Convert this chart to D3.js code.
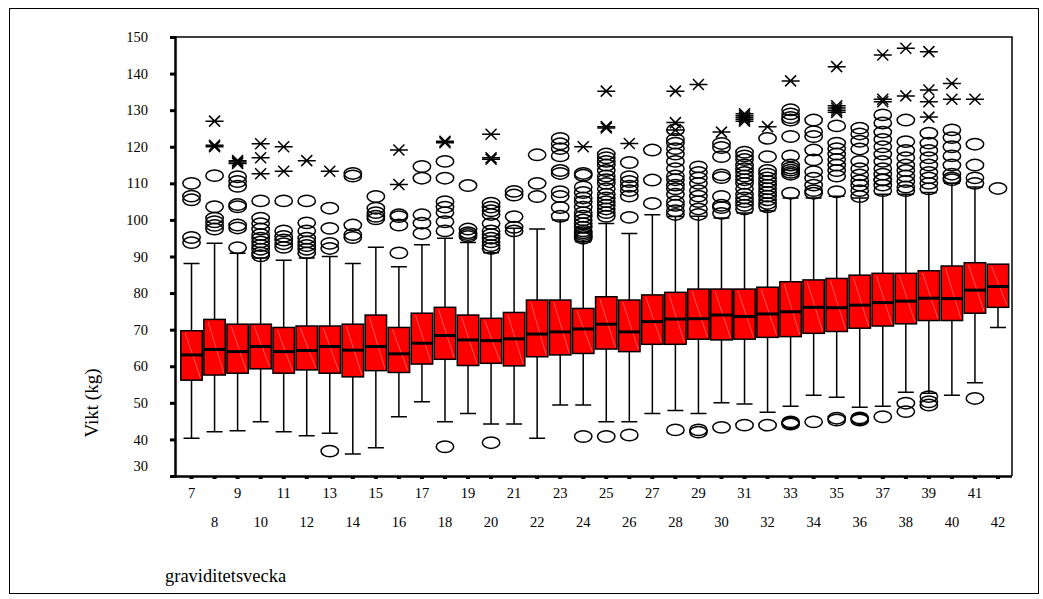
<!DOCTYPE html>
<html>
<head>
<meta charset="utf-8">
<script src="https://cdn.jsdelivr.net/npm/d3@7/dist/d3.min.js"></script>
<style>
  body { margin: 0; background: #fff; }
  text { font-family: "Liberation Serif", "DejaVu Serif", serif; fill: #000; }
</style>
</head>
<body>
<svg id="chart" width="1043" height="599"></svg>
<script>
// graviditetsvecka 7..42
const weeks = [7,8,9,10,11,12,13,14,15,16,17,18,19,20,21,22,23,24,
               25,26,27,28,29,30,31,32,33,34,35,36,37,38,39,40,41,42];

const q1  = [56.2,57.6,58.1,59.3,58.1,59.0,58.1,57.1,58.8,58.3,60.6,61.9,60.2,60.8,60.1,62.6,63.1,63.5,
             64.7,64.0,66.0,66.0,67.4,67.2,67.4,67.9,68.1,69.0,69.5,70.4,71.0,71.6,72.5,72.5,74.5,76.1];
const med = [63.1,64.6,64.0,65.4,64.0,64.3,65.4,64.4,65.4,63.4,66.3,68.4,67.2,67.0,67.5,68.8,69.4,70.2,
             71.5,69.4,72.2,72.9,73.0,74.0,73.6,74.3,74.9,76.1,76.0,76.7,77.4,77.8,78.6,78.5,80.8,81.8];
const q3  = [69.7,72.8,71.5,71.5,70.6,71.0,71.0,71.5,74.0,70.6,74.5,76.1,74.0,73.1,74.7,78.1,78.1,75.8,
             79.0,78.1,79.5,80.2,81.1,81.1,81.1,81.6,83.1,83.6,84.0,84.9,85.4,85.4,86.1,87.4,88.3,87.9];
const wLo = [40.3,42.1,42.4,44.8,42.1,41.0,41.7,36.0,37.7,46.2,50.3,44.8,47.1,44.2,44.2,40.3,49.4,49.4,
             44.8,44.8,47.1,47.9,47.1,50.0,49.7,47.4,49.1,52.1,51.5,48.8,49.1,52.9,52.6,52.1,55.5,70.6];
const wHi = [88.1,93.6,90.9,89.6,89.0,89.6,90.0,88.1,92.5,87.2,93.2,95.0,93.8,91.0,97.7,97.5,100.0,94.0,
             99.0,96.3,101.4,100.9,101.0,100.5,101.9,102.5,106.0,106.0,106.5,106.0,107.0,107.0,107.5,110.0,109.0,87.9];

// outliers (ellipses)
const outliers = [
  [110,106.5,105.5,95.2,93.8],
  [112.1,103.6,100.5,99.5,98.5,97.5],
  [111.8,110.5,109.2,104.2,103.6,98.6,97.8,92.4],
  [105.2,100.5,99,97.5,96,95,94,93,92,91,90.2],
  [105.2,97,95.5,94.5,93.5,92.5],
  [105.2,99.2,97,95,94,93,92,91],
  [103.2,97.7,93.6,92.2,36.8],
  [112.7,112,98.6,96,95.2],
  [106.4,103.2,102,101,100.3],
  [101.4,100.9,98.6,91.0],
  [114.6,111.4,101.4,99.1,96.3],
  [116,111.4,105,103.5,102,99.5,97,38.0],
  [109.4,97.5,96.5,96,95.5],
  [104.6,103.5,102.5,101.5,99,97,96,95,94,93,92.2,39.1],
  [107.8,106.8,100.9,98,97],
  [117.8,110.0,106.4],
  [122.3,120.8,119.5,117.5,113.5,112.7,107.7,106.4,103.4,101],
  [112.7,112.2,109,107.5,106,105,103.5,102,101,100,99,98,97,96.5,96,95.5,95,40.8],
  [118,117,116,115,113.5,112,111,110,108.5,107,106,105,104,103,102,101,40.8],
  [115.7,111.8,110.5,109.2,108,106.5,100.7,41.2],
  [119.1,110.9,104.5],
  [124.6,122,121,119.5,118,116,114,112,111,109.5,108.5,107,105,104,102.5,101.5,42.6],
  [114.5,113,111.5,110,108,106.5,105,103,101.5,42.6,42.0],
  [120.9,119.8,117.3,112.3,111.6,106.4,104,103.4,101.8,43.3],
  [118.5,117.5,116.5,115,114,113,112,111,110,108.5,107,106,105,104,103,43.9],
  [122.3,117.3,113.5,112.5,111.5,110.5,109.5,108.5,107.5,106.5,105.5,104.5,103.6,43.9],
  [130.1,129,128,127.3,122.8,117.5,115,114.2,113.6,113,112.5,107.3,44.8,44.5,44.2],
  [127.3,124.1,122.8,119.1,116.4,113.2,111.4,109.5,108,107.3,44.8],
  [125.7,121,119.5,118,116.5,115,113.5,112,107.7,45.8,45.3],
  [125.1,123.5,121.5,119.4,116,114,112.3,110.7,109.5,108,106.4,45.9,45.6,45.3],
  [128.7,126.5,124,122,120,118,116,114,112.5,111,110.9,109.5,108,46.2],
  [127.3,121.4,119,117,115,113.5,112,110.5,109,108,49.9,47.6],
  [123.7,121,119,117,115,113,111.5,110,108.5,51.7,50.3,49.4],
  [124.6,122.5,120,117.5,115,112.5,111.5,111],
  [120.7,115.0,111.5,110,51.2],
  [108.6]
];

// extreme values (asterisks)
const extremes = [
  [], [127,120.4,120], [116.2,115.8,115.4], [120.8,117.0,112.6], [120.0,113.3], [116.2],
  [113.3], [], [], [119.1,109.7], [], [121.5,121.1], [], [123.4,117,116.6], [], [], [],
  [120.0], [135.2,125.5,125.1], [120.9], [], [135.2,126.6,124.6], [137.0], [124.0],
  [129,128.5,128,127.5,127], [125.5], [138.0], [], [141.9,131.2,130.6,130,129.4], [],
  [145.1,133,132.3], [146.9,133.9], [146.0,135.5,132.3,128.1], [137.3,133.0], [133.0], []
];

const yTicks = [30,40,50,60,70,80,90,100,110,120,130,140,150];

const svg = d3.select("#chart");

// outer frame
svg.append("rect")
  .attr("x", 9.5).attr("y", 8.5)
  .attr("width", 1029).attr("height", 585)
  .attr("fill", "none").attr("stroke", "#000").attr("stroke-width", 1);

const plotLeft = 175, plotRight = 1012, plotTop = 37, plotBottom = 476;

const x = d3.scaleBand()
  .domain(weeks)
  .range([180, 1009.5])
  .padding(0);

const y = d3.scaleLinear()
  .domain([30, 150])
  .range([plotBottom, plotTop]);

const boxW = x.bandwidth() * 0.93;
const capW = 16;

// frame top / right
svg.append("path")
  .attr("d", `M${plotLeft},${plotTop}H${plotRight}V${plotBottom}`)
  .attr("fill", "none").attr("stroke", "#000").attr("stroke-width", 1.5);

const rows = weeks.map((w, i) => ({
  w, q1: q1[i], med: med[i], q3: q3[i], lo: wLo[i], hi: wHi[i],
  out: outliers[i], ext: extremes[i]
}));

const cx = d => x(d.w) + x.bandwidth() / 2;

const g = svg.append("g");

// whiskers
g.selectAll(".wh")
  .data(rows)
  .enter()
  .append("path")
  .attr("class", "wh")
  .attr("d", d => {
    const c = cx(d);
    let p = `M${c},${y(d.q1)}V${y(d.lo)}M${c - capW/2},${y(d.lo)}H${c + capW/2}`;
    if (d.hi > d.q3) p += `M${c},${y(d.q3)}V${y(d.hi)}M${c - capW/2},${y(d.hi)}H${c + capW/2}`;
    return p;
  })
  .attr("fill", "none").attr("stroke", "#000").attr("stroke-width", 1.5);

// boxes
g.selectAll(".box")
  .data(rows)
  .enter()
  .append("rect")
  .attr("class", "box")
  .attr("x", d => cx(d) - boxW / 2)
  .attr("y", d => y(d.q3))
  .attr("width", boxW)
  .attr("height", d => y(d.q1) - y(d.q3))
  .attr("fill", "#ff0000")
  .attr("stroke", "#000").attr("stroke-width", 1.5);

// faint diagonal sheen in boxes
g.selectAll(".sheen")
  .data(rows)
  .enter()
  .append("line")
  .attr("x1", d => cx(d) - boxW * 0.3)
  .attr("y1", d => y(d.q3) + 2)
  .attr("x2", d => cx(d) + boxW * 0.42)
  .attr("y2", d => y(d.q1) - 2)
  .attr("stroke", "#ffb0b0").attr("stroke-width", 0.6).attr("opacity", 0.8);

// medians
g.selectAll(".med")
  .data(rows)
  .enter()
  .append("line")
  .attr("x1", d => cx(d) - boxW / 2)
  .attr("x2", d => cx(d) + boxW / 2)
  .attr("y1", d => y(d.med))
  .attr("y2", d => y(d.med))
  .attr("stroke", "#000").attr("stroke-width", 3);

// outliers
const outPts = rows.flatMap(d => d.out.map(v => ({ c: cx(d), v })));
g.selectAll(".out")
  .data(outPts)
  .enter()
  .append("ellipse")
  .attr("cx", d => d.c)
  .attr("cy", d => y(d.v))
  .attr("rx", 8.7).attr("ry", 5.7)
  .attr("fill", "none").attr("stroke", "#000").attr("stroke-width", 1.5);

// extremes
const extPts = rows.flatMap(d => d.ext.map(v => ({ c: cx(d), v })));
const star = "M-9,0H9M-5.5,-5.5L5.5,5.5M-5.5,5.5L5.5,-5.5";
g.selectAll(".ext")
  .data(extPts)
  .enter()
  .append("path")
  .attr("transform", d => `translate(${d.c},${y(d.v)})`)
  .attr("d", star)
  .attr("fill", "none").attr("stroke", "#000").attr("stroke-width", 1.5);

// y axis
const yAxis = d3.axisLeft(y).tickValues(yTicks).tickSize(5).tickPadding(22);
const ya = svg.append("g")
  .attr("transform", `translate(${plotLeft},0)`)
  .call(yAxis);
ya.select(".domain").attr("stroke-width", 2.5);
ya.selectAll(".tick line").attr("stroke-width", 3);
ya.selectAll(".tick text")
  .style("font-family", "Liberation Serif")
  .style("font-size", "14.5px")
  .attr("dy", d => d === 30 ? "-0.4em" : "0.32em");

// x axis
const xAxis = d3.axisBottom(x).tickSize(3).tickFormat("");
const xa = svg.append("g")
  .attr("transform", `translate(0,${plotBottom})`)
  .call(xAxis);
xa.select(".domain").attr("d", `M${plotLeft - 4},0.5H${plotRight}`).attr("stroke-width", 2.5);
xa.selectAll(".tick line").attr("stroke-width", 4);

svg.append("g").selectAll("text")
  .data(weeks)
  .enter()
  .append("text")
  .attr("x", d => x(d) + x.bandwidth() / 2)
  .attr("y", (d, i) => i % 2 === 0 ? 498 : 527)
  .attr("text-anchor", "middle")
  .style("font-size", "14.5px")
  .text(d => d);

// axis titles
svg.append("text")
  .attr("transform", "translate(98,403) rotate(-90)")
  .attr("text-anchor", "middle")
  .style("font-size", "19px")
  .text("Vikt (kg)");

svg.append("text")
  .attr("x", 165).attr("y", 582)
  .style("font-size", "18.5px")
  .text("graviditetsvecka");
</script>
</body>
</html>
